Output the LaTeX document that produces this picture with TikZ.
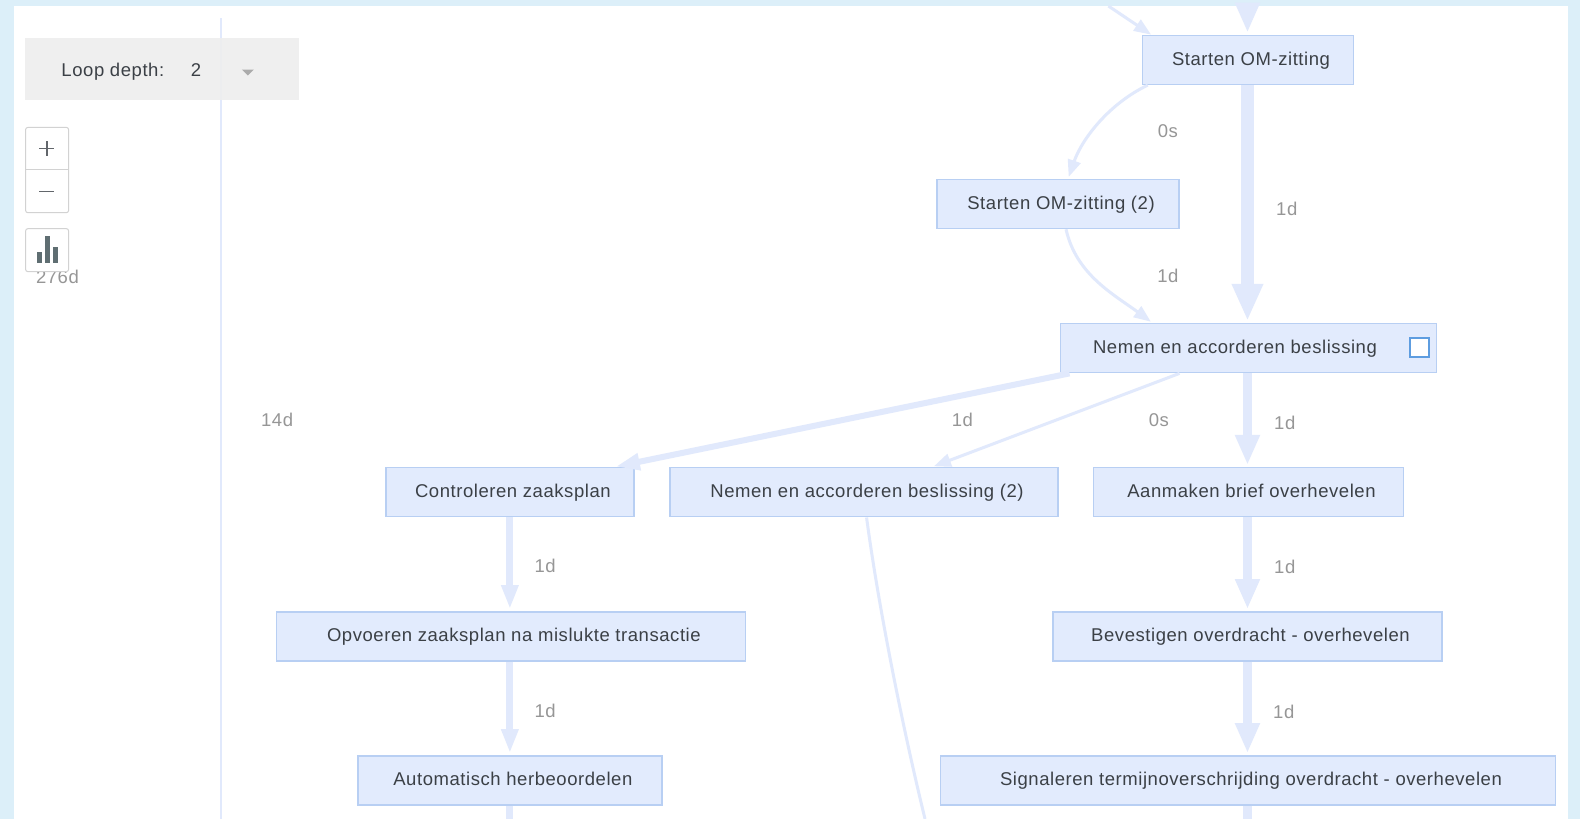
\documentclass[tikz,border=0pt]{standalone}
\usepackage{fontspec}
\setmainfont{Liberation Sans}
\newfontfamily\uifont[LetterSpace=3]{Liberation Sans}
\usetikzlibrary{arrows.meta,positioning}
\definecolor{pageblue}{HTML}{DCEFF9}
\definecolor{nodefill}{HTML}{E2EBFD}
\definecolor{nodeline}{HTML}{B8CFF3}
\definecolor{edgecol}{HTML}{E1E9FC}
\definecolor{txtdark}{HTML}{3B4046}
\definecolor{txtgray}{HTML}{969696}
\definecolor{panelgray}{HTML}{EEEEEE}
\definecolor{btnline}{HTML}{D2D2D2}
\definecolor{barcol}{HTML}{5F6E72}
\definecolor{checkblue}{HTML}{5E9DE0}
\newcommand{\acttext}[1]{\hspace*{6pt}#1}
\tikzset{
  uitext/.style={font=\uifont\fontsize{18.5}{20}\selectfont,inner sep=0pt},
  activity/.style={uitext,draw=nodeline,fill=nodefill,line width=1.5pt,
    text=txtdark,minimum height=49pt,text height=14pt,text depth=3pt},
  dur/.style={uitext,text=txtgray},
  flowbase/.style={draw=edgecol,shorten >=2pt},
  flowthin/.style={flowbase,line width=3pt,-{Triangle[width=13pt,length=17pt]}},
  flowmed/.style={flowbase,line width=6pt,-{Triangle[width=16pt,length=24pt]}},
  flowwide/.style={flowbase,line width=9pt,-{Triangle[width=23pt,length=30pt]}},
  flowbig/.style={flowbase,line width=13pt,-{Triangle[width=29pt,length=37pt]}},
  stub/.style={draw=edgecol},
  btn/.style={draw=btnline,fill=white,line width=1pt,rounded corners=2pt},
}
\begin{document}
\begin{tikzpicture}[x=1.0077pt,y=-1.0077pt]
\useasboundingbox (0,0) rectangle (1568,812.75);
\fill[pageblue] (0,0) rectangle (1568,812.75);
\fill[white] (14,6) rectangle (1556,812.75);
% axis
\coordinate (axt) at (219,18);
\coordinate (axb) at (219,812.75);
\draw[edgecol,line width=2pt] (axt) -- (axb);
% free ends
\coordinate (t1) at (1100,6);
\coordinate (t2) at (1238,6);
\coordinate (b1) at (506,812.75);
\coordinate (b2) at (1238,812.75);
\coordinate (b3) at (918,812.75);
% activities
\node[activity,minimum width=211pt] (om) at (1238.5,59.5) {\acttext{Starten OM-zitting}};
\node[activity,minimum width=242pt] (om2) at (1050,202.5) {\acttext{Starten OM-zitting (2)}};
\node[activity,minimum width=376pt] (nab) at (1239,345.5) {\hspace*{-27pt}Nemen en accorderen beslissing};
\node[draw=checkblue,fill=white,line width=2pt,minimum width=19pt,minimum height=19pt,inner sep=0pt] (chk) at (1408.5,345) {};
\node[activity,minimum width=248pt] (cz) at (506,488.5) {\acttext{Controleren zaaksplan}};
\node[activity,minimum width=388pt] (nab2) at (857.5,488.5) {\acttext{Nemen en accorderen beslissing (2)}};
\node[activity,minimum width=310pt] (abo) at (1239,488.5) {\acttext{Aanmaken brief overhevelen}};
\node[activity,minimum width=469pt] (oz) at (507,631.5) {\acttext{Opvoeren zaaksplan na mislukte transactie}};
\node[activity,minimum width=389pt] (bo) at (1238,631.5) {\acttext{Bevestigen overdracht - overhevelen}};
\node[activity,minimum width=304pt] (ah) at (506,774.5) {\acttext{Automatisch herbeoordelen}};
\node[activity,minimum width=615pt] (st) at (1238.5,774.5) {\acttext{Signaleren termijnoverschrijding overdracht - overhevelen}};
% connectors
\draw[flowthin] (t1) -- ([xshift=11pt,yshift=-1pt]om.north west);
\draw[flowwide] (t2) -- (om.north -| t2);
\draw[flowthin] ([xshift=6pt]om.south west) .. controls +(-38,18) and +(14,-40) .. ([xshift=10pt]om2.north);
\draw[flowbig] (om.south -| t2) -- (nab.north -| t2);
\draw[flowthin] ([xshift=8pt]om2.south) .. controls +(10,45) and +(-38,-28) .. ([xshift=-96pt]nab.north);
\draw[flowmed] ([xshift=-179pt]nab.south) -- ([xshift=104pt]cz.north);
\draw[flowthin] ([xshift=-69pt]nab.south) -- ([xshift=68pt]nab2.north);
\draw[flowwide] (nab.south -| t2) -- (abo.north -| t2);
\draw[flowwide] (abo.south -| t2) -- (bo.north -| t2);
\draw[flowwide] (bo.south -| t2) -- (st.north -| t2);
\draw[stub,line width=9pt] (st.south -| t2) -- (b2);
\draw[flowmed,line width=7pt] (cz.south) -- (oz.north -| cz.south);
\draw[flowmed,line width=7pt] (oz.south -| cz.south) -- (ah.north);
\draw[stub,line width=7pt] (ah.south) -- (b1);
\draw[stub,line width=3pt] ([xshift=2.5pt]nab2.south) .. controls +(12,90) and +(-22,-90) .. (b3);
% durations
\node[dur] (d1) at (1159,130) {0s};
\node[dur] (d2) at (1277,207) {1d};
\node[dur] (d3) at (1159,274) {1d};
\node[dur] (d4) at (275,417) {14d};
\node[dur] (d5) at (955,417) {1d};
\node[dur] (d6) at (1150,417) {0s};
\node[dur] (d7) at (1275,420) {1d};
\node[dur] (d8) at (541,562) {1d};
\node[dur] (d9) at (1275,563) {1d};
\node[dur] (d10) at (541,705) {1d};
\node[dur] (d11) at (1274,706) {1d};
\node[dur] (d12) at (57,275) {276d};
% controls
\fill[panelgray,opacity=.92] (25,38) rectangle (297,99);
\node[uitext,text=txtdark] (ld) at (112,71) {Loop depth:};
\node[uitext,text=txtdark] (ldv) at (194.5,70) {2};
\fill[txtgray!80] (240,69) -- (252,69) -- (246,75) -- cycle;
\draw[btn] (25.5,126.5) rectangle (68,211);
\draw[btnline,line width=1pt] (25.5,168.5) -- (68,168.5);
\draw[txtdark!80,line width=1.6pt] (39,147.5) -- (54,147.5) (46.5,140) -- (46.5,155);
\draw[txtdark!80,line width=1.6pt] (39,190) -- (54,190);
\draw[btn] (25.5,227) rectangle (68,269.5);
\fill[barcol] (36.5,250) rectangle (41.5,261);
\fill[barcol] (45,234) rectangle (50,261);
\fill[barcol] (53,245) rectangle (58,261);
\end{tikzpicture}
\end{document}
